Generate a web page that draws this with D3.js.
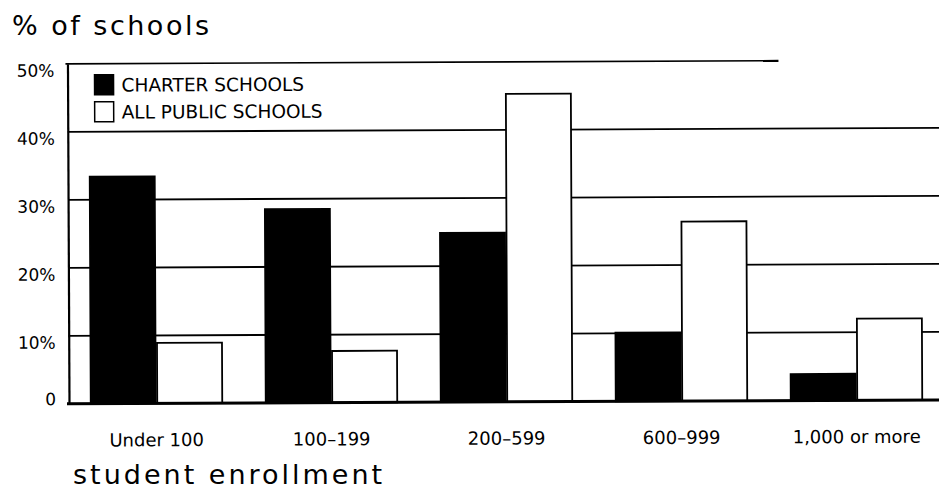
<!DOCTYPE html>
<html>
<head>
<meta charset="utf-8">
<script src="https://cdn.jsdelivr.net/npm/d3@7"></script>
<style>
  html, body { margin: 0; padding: 0; background: #fff; }
  svg { display: block; font-family: "DejaVu Sans", sans-serif; }
</style>
</head>
<body>
<svg id="chart" width="939" height="493"></svg>
<script>
// ---- data ----
const categories = ["Under 100", "100\u2013199", "200\u2013599", "600\u2013999", "1,000 or more"];
const seriesNames = ["CHARTER SCHOOLS", "ALL PUBLIC SCHOOLS"];
const charterValues = [33.4, 28.5, 24.9, 10.1, 3.9];
const publicValues = [8.9, 7.6, 45.3, 26.4, 12.0];
const yTickValues = [0, 10, 20, 30, 40, 50];
const yTickLabels = ["0", "10%", "20%", "30%", "40%", "50%"];
const yTitle = "% of schools";
const xTitle = "student enrollment";

const svg = d3.select("#chart");
const left = 69, baseY = 402, topY = 62;

const x0 = d3.scaleBand().domain(categories).range([left, left + 875])
  .paddingInner(0.24).paddingOuter(0.12);
const x1 = d3.scaleBand().domain(seriesNames).range([0, x0.bandwidth()]).padding(0);
const y = d3.scaleLinear().domain([0, 50]).range([baseY, topY]);
const color = d3.scaleOrdinal().domain(seriesNames).range(["#000", "#fff"]);

const rows = categories.map((c, i) => ({ cat: c, values: [
  { key: seriesNames[0], v: charterValues[i] },
  { key: seriesNames[1], v: publicValues[i] } ] }));

// slight rotation like the scanned original
const g = svg.append("g").attr("transform", `rotate(-0.26, 480, ${baseY})`);

// gridlines (10..40 full width, 50 top frame shorter)
const grid = g.append("g");
grid.selectAll("line.grid").data(yTickValues.filter(d => d > 0 && d < 50)).join("line")
  .attr("x1", left).attr("x2", 945)
  .attr("y1", d => y(d)).attr("y2", d => y(d))
  .attr("stroke", "#000").attr("stroke-width", 1.8);
grid.append("line")
  .attr("x1", left - 2).attr("x2", 780)
  .attr("y1", y(50)).attr("y2", y(50))
  .attr("stroke", "#000").attr("stroke-width", 1.6);

// bars
const groups = g.append("g").selectAll("g").data(rows).join("g")
  .attr("transform", d => `translate(${x0(d.cat)},0)`);
groups.selectAll("rect").data(d => d.values).join("rect")
  .attr("x", d => x1(d.key) + 0.75)
  .attr("width", x1.bandwidth() - 1.5)
  .attr("y", d => y(d.v))
  .attr("height", d => y(0) - y(d.v))
  .attr("fill", d => color(d.key))
  .attr("stroke", "#000").attr("stroke-width", 1.8);

// y axis
const yAxis = d3.axisLeft(y).tickValues(yTickValues)
  .tickFormat((d, i) => yTickLabels[i]).tickSize(0).tickSizeOuter(0).tickPadding(13);
const ya = g.append("g").attr("transform", `translate(${left},0)`).call(yAxis);
ya.select(".domain").attr("stroke", "#000").attr("stroke-width", 2.2);
ya.selectAll("text").attr("font-size", 17).attr("fill", "#000")
  .attr("font-family", "DejaVu Sans, sans-serif")
  .attr("dy", d => d === 0 ? "0.05em" : "0.72em");

// baseline
g.append("line").attr("x1", left - 2).attr("x2", 945)
  .attr("y1", y(0)).attr("y2", y(0))
  .attr("stroke", "#000").attr("stroke-width", 3);

// x axis labels
const xAxis = d3.axisBottom(x0).tickSize(0).tickPadding(30);
const xa = g.append("g").attr("transform", `translate(0,${baseY})`).call(xAxis);
xa.select(".domain").remove();
xa.selectAll("text").attr("font-size", 18).attr("fill", "#000")
  .attr("font-family", "DejaVu Sans, sans-serif");

// legend
const legend = g.append("g");
seriesNames.forEach((s, i) => {
  const ly = 73 + i * 27;
  legend.append("rect").attr("x", 96).attr("y", ly).attr("width", 19).attr("height", 20)
    .attr("fill", color(s)).attr("stroke", "#000").attr("stroke-width", 1.5);
  legend.append("text").attr("x", 123).attr("y", ly + 17).text(s)
    .attr("font-size", 18.5).attr("fill", "#000");
});

// titles
svg.append("text").attr("x", 12).attr("y", 35).text(yTitle)
  .attr("font-size", 27).attr("letter-spacing", 2.5).attr("fill", "#000");
svg.append("text").attr("x", 73).attr("y", 484).text(xTitle)
  .attr("font-size", 27).attr("letter-spacing", 3).attr("fill", "#000");
</script>
</body>
</html>
